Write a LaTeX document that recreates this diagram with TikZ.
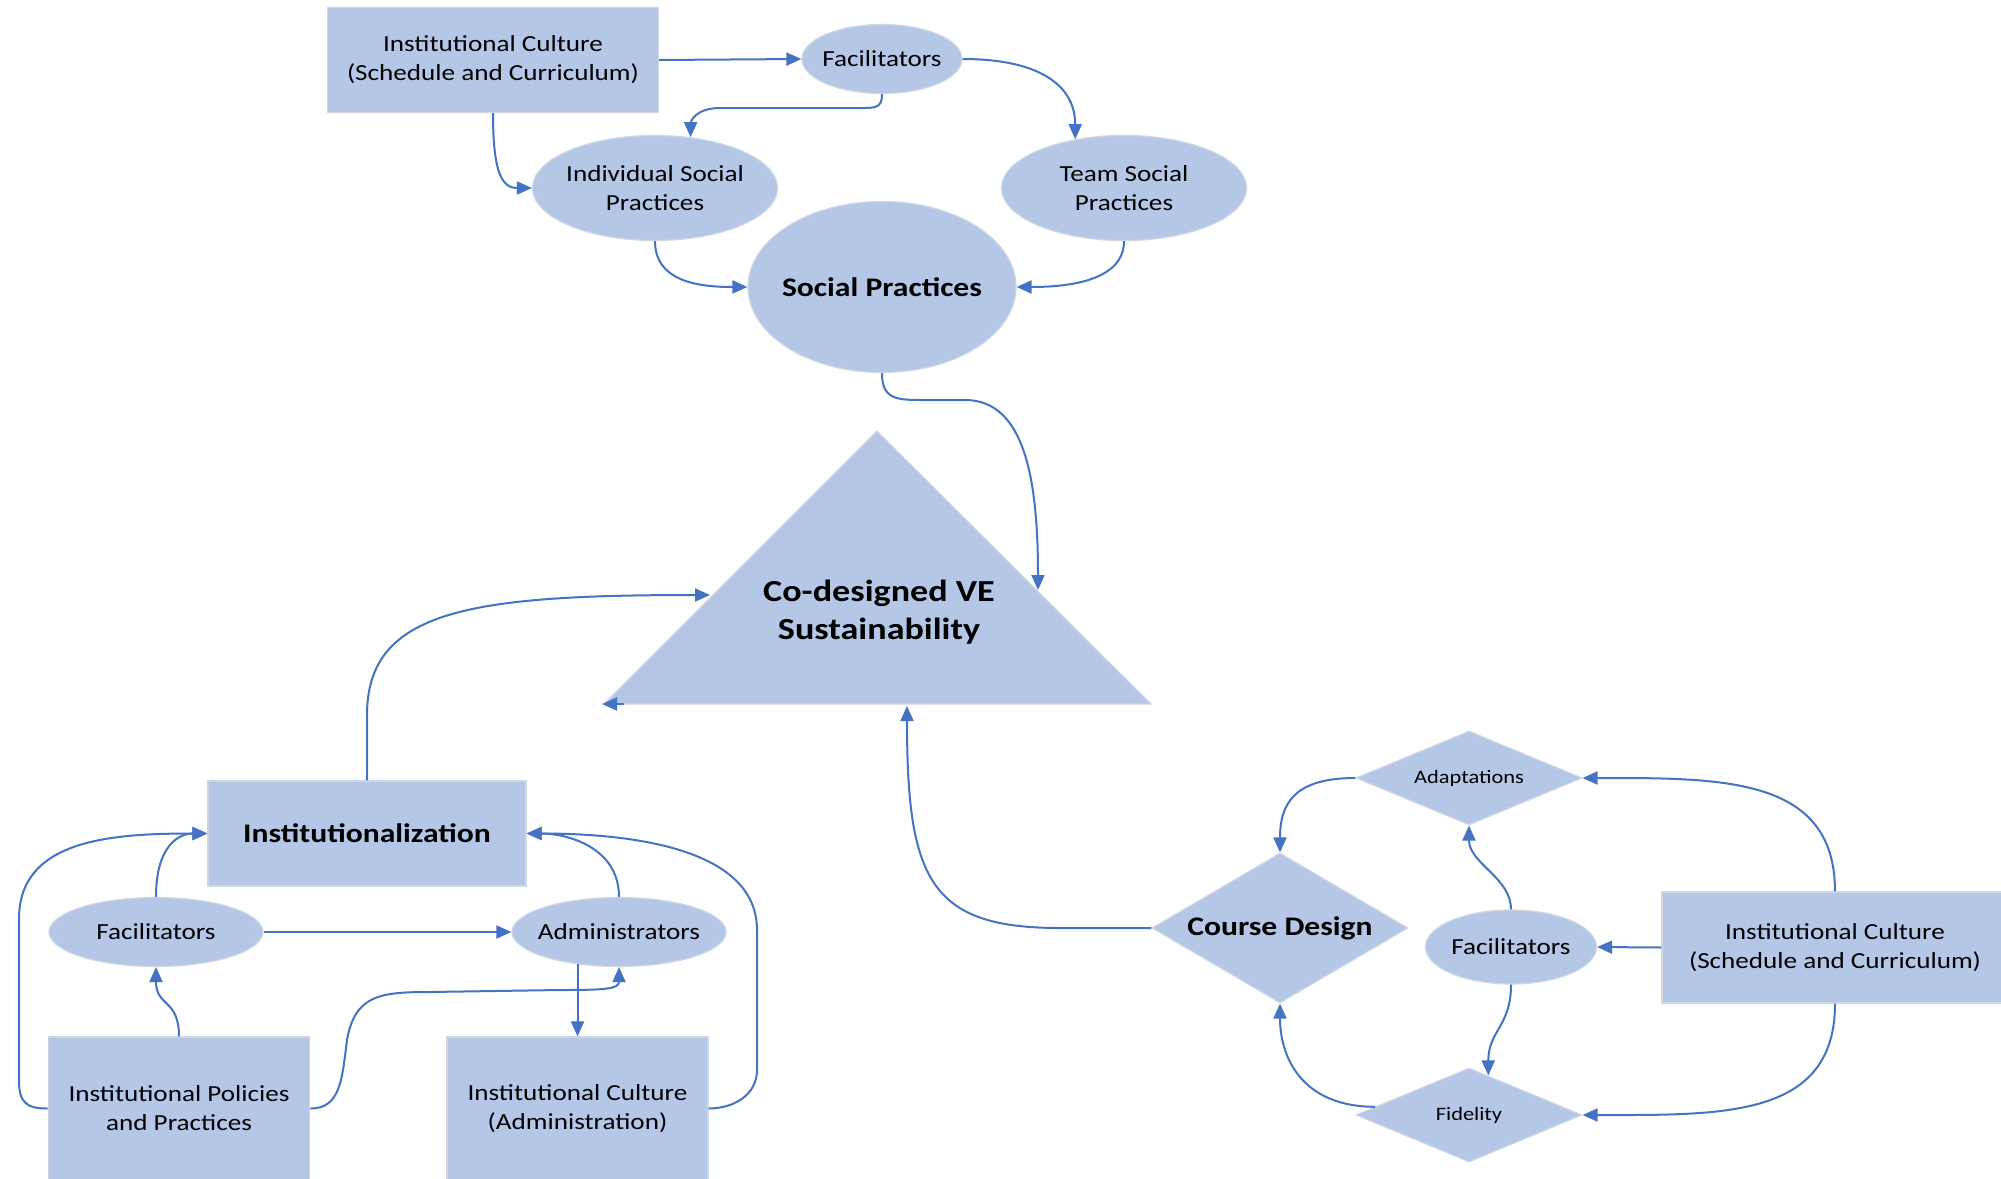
\documentclass[tikz,border=0pt]{standalone}
\usepackage{fontspec}
\setmainfont[FakeStretch=1.18]{Carlito}
\usetikzlibrary{shapes.geometric,arrows.meta}
\definecolor{shapefill}{RGB}{180,199,231}
\definecolor{shapeedge}{RGB}{208,214,226}
\definecolor{linkblue}{RGB}{68,114,196}
\begin{document}
\begin{tikzpicture}[x=0.5pt,y=-0.5pt,
  base/.style={fill=shapefill, draw=shapeedge, line width=0.6pt, inner sep=0pt},
  boxnode/.style={base, rectangle},
  oval/.style={base, ellipse},
  gem/.style={base, diamond},
  txt/.style={align=center, font=\fontsize{11.5}{14.5}\selectfont, inner sep=0pt},
  bigtxt/.style={align=center, font=\fontsize{13.4}{16}\selectfont\bfseries, inner sep=0pt},
  hugetxt/.style={align=center, font=\fontsize{15.3}{19}\selectfont\bfseries, inner sep=0pt},
  smalltxt/.style={align=center, font=\fontsize{9.5}{12}\selectfont, inner sep=0pt},
  link/.style={draw=linkblue, line width=1pt, -{Triangle[length=7.5pt,width=6.5pt]}},
]
\fill[white] (0,0) rectangle (2001,1178);
\useasboundingbox (0,0) rectangle (2001,1178);

% ---------- social practices cluster ----------
\node[boxnode, txt, minimum width=165.5pt, minimum height=52.5pt] (topbox) at (493,60)
  {Institutional Culture\\(Schedule and Curriculum)};
\node[oval, minimum width=80pt, minimum height=34.5pt] (fac1) at (882,59) {};
\node[txt] (fac1-t) at (fac1) {Facilitators};
\node[oval, minimum width=122.5pt, minimum height=52.5pt] (ind) at (655,188) {};
\node[txt] (ind-t) at (ind) {Individual Social\\Practices};
\node[oval, minimum width=122.5pt, minimum height=52.5pt] (team) at (1124,188) {};
\node[txt] (team-t) at (team) {Team Social\\Practices};
\node[oval, minimum width=134pt, minimum height=85.5pt] (sp) at (882,287) {};
\node[bigtxt] (sp-t) at (sp) {Social Practices};

% ---------- central triangle ----------
\coordinate (ta) at (877,431);
\coordinate (tl) at (604,704);
\coordinate (tr) at (1151,704);
\filldraw[fill=shapefill, draw=shapeedge, line width=0.6pt] (ta) -- (tl) -- (tr) -- cycle;
\node[hugetxt] (ve) at (879,612) {Co-designed VE\\Sustainability};
\coordinate (tri-r) at (1038,590);
\coordinate (tri-l) at (710,595);
\coordinate (tri-b) at (907,706);

% ---------- institutionalization cluster ----------
\node[boxnode, bigtxt, minimum width=159pt, minimum height=52.5pt] (inst) at (367,833.5) {Institutionalization};
\node[oval, minimum width=107pt, minimum height=34.5pt] (facl) at (156,932) {};
\node[txt] (facl-t) at (facl) {Facilitators};
\node[oval, minimum width=107pt, minimum height=34.5pt] (admin) at (619,932) {};
\node[txt] (admin-t) at (admin) {Administrators};
\node[boxnode, txt, minimum width=130.75pt, minimum height=71.5pt] (pol) at (179,1108.5)
  {Institutional Policies\\and Practices};
\node[boxnode, txt, minimum width=130.5pt, minimum height=71.5pt] (cadm) at (577.5,1108.5)
  {Institutional Culture\\(Administration)};

% ---------- course design cluster ----------
\node[gem, minimum width=128pt, minimum height=75pt] (cd) at (1280,928) {};
\node[bigtxt] (cd-t) at (cd) {Course Design};
\node[gem, minimum width=113pt, minimum height=47pt] (adapt) at (1469,778) {};
\node[smalltxt] (adapt-t) at (adapt) {Adaptations};
\node[gem, minimum width=113pt, minimum height=47pt] (fid) at (1469,1115) {};
\node[smalltxt] (fid-t) at (fid) {Fidelity};
\node[oval, minimum width=85.5pt, minimum height=37pt] (facr) at (1511,947) {};
\node[txt] (facr-t) at (facr) {Facilitators};
\node[boxnode, txt, minimum width=173pt, minimum height=55.5pt] (rbox) at (1835,947.5)
  {Institutional Culture\\(Schedule and Curriculum)};

% ---------- connectors: top ----------
\draw[link] (topbox.east) -- (fac1.west);
\draw[link] (topbox.south) .. controls +(0,60) and +(-30,0) .. (ind.west);
\draw[link] (fac1.south) .. controls +(0,15) and +(20,0) .. (855,108) -- (720,108)
  .. controls +(-25,0) and +(0,-15) .. (ind.55);
\draw[link] (fac1.east) .. controls +(75,0) and +(0,-55) .. (team.135);
\draw[link] (ind.south) .. controls +(0,42) and +(-45,0) .. (sp.west);
\draw[link] (team.south) .. controls +(0,42) and +(45,0) .. (sp.east);
\draw[link] (sp.south) .. controls +(0,25) and +(-25,0) .. (920,400) -- (965,400)
  .. controls +(60,0) and +(0,-110) .. (tri-r);

% ---------- connectors: left ----------
\draw[link] (inst.north) -- (367,715) .. controls +(0,-105) and +(-240,0) .. (tri-l);
\draw[link] (facl.north) .. controls +(0,-52) and +(-28,0) .. (inst.west);
\draw[link] (pol.west) .. controls +(-22,0) and +(0,22) .. (19,1080) -- (19,919)
  .. controls +(0,-79) and +(-98,0) .. (inst.west);
\draw[link] (pol.north) .. controls +(0,-38) and +(0,40) .. (facl.south);
\draw[link] (pol.east) .. controls +(30,0) and +(-5,40) .. (347,1040)
  .. controls +(8,-45) and +(-50,0) .. (430,992) -- (560,990)
  .. controls +(45,0) and +(0,22) .. (admin.south);
\draw[link] (facl.east) -- (admin.west);
\draw[link] (admin.north) .. controls +(0,-50) and +(40,0) .. (inst.east);
\draw[link] (admin.218) -- (admin.218 |- cadm.north);
\draw[link] (cadm.east) .. controls +(25,0) and +(0,25) .. (757,1070) -- (757,930)
  .. controls +(0,-80) and +(110,0) .. (inst.east);
\draw[link] ([xshift=10pt]tl) -- ([xshift=-1pt]tl);

% ---------- connectors: right ----------
\draw[link] (cd.west) -- (1060,928) .. controls (930,928) and (907,880) .. (tri-b);
\draw[link] (adapt.west) .. controls +(-60,0) and +(0,-50) .. (cd.north);
\draw[link] (fid.175) .. controls +(-72,0) and +(0,55) .. (cd.south);
\draw[link] (facr.north) .. controls +(0,-32) and +(0,38) .. (adapt.south);
\draw[link] (facr.south) .. controls +(0,42) and +(0,-45) .. (fid.64);
\draw[link] (rbox.west) -- (facr.east);
\draw[link] (rbox.north) .. controls +(0,-115) and +(140,0) .. (adapt.east);
\draw[link] (rbox.south) .. controls +(0,115) and +(140,0) .. (fid.east);
\end{tikzpicture}
\end{document}
